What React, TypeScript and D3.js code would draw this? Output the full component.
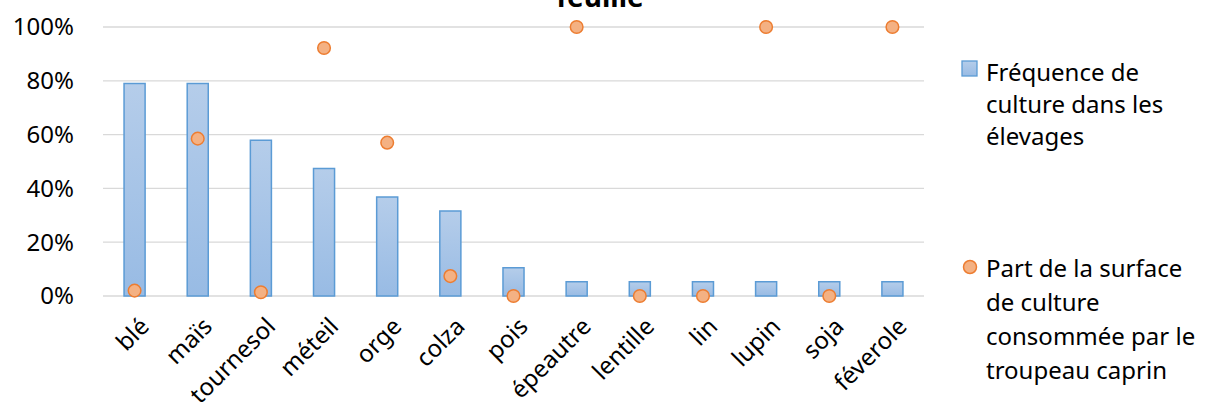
import React, { useEffect, useRef } from 'react';
import * as d3 from 'd3';

const categories = ['blé', 'maïs', 'tournesol', 'méteil', 'orge', 'colza', 'pois', 'épeautre', 'lentille', 'lin', 'lupin', 'soja', 'féverole'];
const frequence = [0.79, 0.79, 0.579, 0.474, 0.368, 0.316, 0.105, 0.053, 0.053, 0.053, 0.053, 0.053, 0.053];
const partSurface = [0.02, 0.585, 0.014, 0.922, 0.57, 0.074, 0, 1, 0, 0, 1, 0, 1];
const yTicks = [0, 0.2, 0.4, 0.6, 0.8, 1];
const titleLastLine = 'feuille';
const legendBars = ['Fréquence de', 'culture dans les', 'élevages'];
const legendDots = ['Part de la surface', 'de culture', 'consommée par le', 'troupeau caprin'];

const W = 1205;
const H = 410;
const FONT = "'Noto Sans', 'Open Sans', sans-serif";
const FS = 24;

export default function App() {
  const svgRef = useRef<SVGSVGElement>(null);

  useEffect(() => {
    document.body.style.margin = '0';
    if (!svgRef.current) return;
    const svg = d3.select(svgRef.current);
    svg.selectAll('*').remove();

    const x = d3.scaleBand<string>().domain(categories).range([103, 924]).paddingInner(0).paddingOuter(0);
    const y = d3.scaleLinear().domain([0, 1]).range([296, 27]);

    const defs = svg.append('defs');
    const grad = defs.append('linearGradient').attr('id', 'barGrad').attr('x1', 0).attr('y1', 0).attr('x2', 0).attr('y2', 1);
    grad.append('stop').attr('offset', '0%').attr('stop-color', '#b5cdea');
    grad.append('stop').attr('offset', '100%').attr('stop-color', '#98bbe4');

    // title (only the bottom of its last line is visible)
    svg.append('text')
      .attr('x', 600)
      .attr('y', 7)
      .attr('text-anchor', 'middle')
      .attr('font-family', FONT)
      .attr('font-weight', 'bold')
      .attr('font-size', 28)
      .text(titleLastLine);

    // grid
    svg.append('g')
      .selectAll('line')
      .data(yTicks)
      .enter()
      .append('line')
      .attr('x1', 103)
      .attr('x2', 924)
      .attr('y1', (d) => y(d))
      .attr('y2', (d) => y(d))
      .attr('stroke', '#d9d9d9')
      .attr('stroke-width', 1.3);

    // y labels
    svg.append('g')
      .selectAll('text')
      .data(yTicks)
      .enter()
      .append('text')
      .attr('x', 74)
      .attr('y', (d) => y(d))
      .attr('dy', '0.35em')
      .attr('text-anchor', 'end')
      .attr('font-family', FONT)
      .attr('font-size', FS)
      .attr('fill', '#000')
      .text((d) => d3.format('.0%')(d));

    // bars
    const bw = x.bandwidth() / 3;
    svg.append('g')
      .selectAll('rect')
      .data(frequence)
      .enter()
      .append('rect')
      .attr('x', (_, i) => (x(categories[i]) ?? 0) + x.bandwidth() / 2 - bw / 2)
      .attr('y', (d) => y(d))
      .attr('width', bw)
      .attr('height', (d) => y(0) - y(d))
      .attr('fill', 'url(#barGrad)')
      .attr('stroke', '#5b9bd5')
      .attr('stroke-width', 1.5);

    // dots
    svg.append('g')
      .selectAll('circle')
      .data(partSurface)
      .enter()
      .append('circle')
      .attr('cx', (_, i) => (x(categories[i]) ?? 0) + x.bandwidth() / 2)
      .attr('cy', (d) => y(d))
      .attr('r', 6.3)
      .attr('fill', '#f4b183')
      .attr('stroke', '#ed7d31')
      .attr('stroke-width', 1.5);

    // x labels
    svg.append('g')
      .selectAll('text')
      .data(categories)
      .enter()
      .append('text')
      .attr('transform', (d) => `translate(${(x(d) ?? 0) + x.bandwidth() / 2 + 10},${322}) rotate(-45)`)
      .attr('text-anchor', 'end')
      .attr('dy', '0.35em')
      .attr('font-family', FONT)
      .attr('font-size', FS)
      .text((d) => d);

    // legend
    const lg = svg.append('g').attr('font-family', FONT).attr('font-size', FS);
    lg.append('rect')
      .attr('x', 962).attr('y', 61).attr('width', 15).attr('height', 15)
      .attr('fill', 'url(#barGrad)').attr('stroke', '#5b9bd5').attr('stroke-width', 1.3);
    lg.append('text')
      .attr('x', 986).attr('y', 81)
      .selectAll('tspan')
      .data(legendBars)
      .enter()
      .append('tspan')
      .attr('x', 986)
      .attr('dy', (_, i) => (i === 0 ? 0 : 32))
      .text((d) => d);
    lg.append('circle')
      .attr('cx', 970).attr('cy', 267).attr('r', 6.5)
      .attr('fill', '#f4b183').attr('stroke', '#ed7d31').attr('stroke-width', 1.5);
    lg.append('text')
      .attr('x', 986).attr('y', 277)
      .selectAll('tspan')
      .data(legendDots)
      .enter()
      .append('tspan')
      .attr('x', 986)
      .attr('dy', (_, i) => (i === 0 ? 0 : 34))
      .text((d) => d);
  }, []);

  return <svg ref={svgRef} width={W} height={H} style={{ display: 'block', background: '#fff' }} />;
}
